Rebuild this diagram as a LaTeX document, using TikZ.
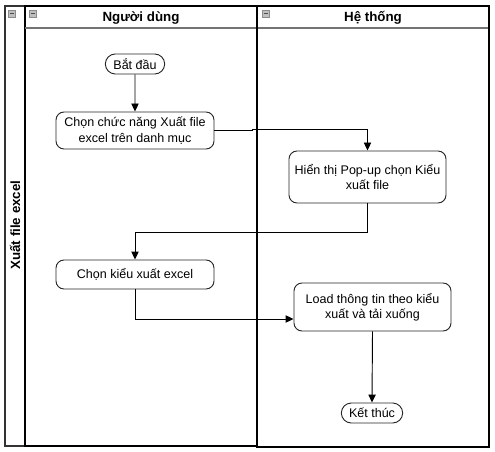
\documentclass[tikz,border=0pt]{standalone}
\usepackage{fontspec}
\setmainfont{Liberation Sans}
\usetikzlibrary{arrows.meta,shapes.misc}
\tikzset{
  lane/.style={draw=black,line width=1.6pt},
  pool/.style={draw=black!80,line width=0.8pt},
  hdr/.style={draw=black!55,line width=1.1pt},
  icon/.style={draw=black!45,fill=black!25,line width=0.4pt},
  act/.style={draw=black!85,rounded corners=6pt,line width=0.7pt,align=center,font=\fontsize{9.4}{11.5}\selectfont,inner sep=1pt},
  term/.style={draw=black!85,rounded rectangle,line width=0.7pt,font=\fontsize{9.4}{11.5}\selectfont,inner sep=1pt},
  flow/.style={draw=black,line width=0.7pt,-{Triangle[length=6pt,width=5.5pt]}},
  title/.style={font=\bfseries\fontsize{10}{12}\selectfont}
}
\begin{document}
\begin{tikzpicture}[x=0.75pt,y=-0.75pt]
\useasboundingbox (0,0) rectangle (495,452);
% pool and lanes
\draw[pool] (5,6) rectangle (25,446);
\draw[lane] (25,6) rectangle (257,446);
\draw[lane] (257,6) rectangle (489,447);
\draw[hdr] (25,28) -- (256,28);
\draw[hdr] (258,28) -- (488,28);
% icons
\foreach \x in {8,29,262}{
  \draw[icon] (\x,10) rectangle ++(7,7);
  \draw[black!70,line width=0.8pt] (\x+1.5,13.5) -- (\x+5.5,13.5);
}
\node[title] (lane1) at (141,18) {Người dùng};
\node[title] (lane2) at (373,18) {Hệ thống};
\node[title,rotate=90] (poolt) at (15,225) {Xuất file excel};
% nodes
\node[term,minimum width=46.5pt,minimum height=15pt] (start) at (135,64) {Bắt đầu};
\node[act,minimum width=118.5pt,minimum height=27.75pt] (a1) at (135,130.5) {Chọn chức năng Xuất file\\excel trên danh mục};
\node[act,minimum width=117.75pt,minimum height=39pt] (a2) at (367.5,177) {Hiển thị Pop-up chọn Kiểu\\xuất file};
\node[act,minimum width=118.5pt,minimum height=21.75pt] (a3) at (135,274.5) {Chọn kiểu xuất excel};
\node[act,minimum width=117.75pt,minimum height=36pt] (a4) at (372.5,307) {Load thông tin theo kiểu\\xuất và tải xuống};
\node[term,minimum width=48pt,minimum height=15pt] (end) at (372,413) {Kết thúc};
% connectors
\draw[flow] (start) -- (a1);
\draw[flow] (a1.east) -- (252,130.5) -- (252,129) -- (367.5,129) -- (a2.north);
\draw[flow] (a2.south) -- (367.5,232) -- (135,232) -- (a3.north);
\draw[flow] (a3.south) -- (135,319) -- (a4.west |- 0,319);
\draw[flow] (a4.south) -- (end.north);
\end{tikzpicture}
\end{document}
